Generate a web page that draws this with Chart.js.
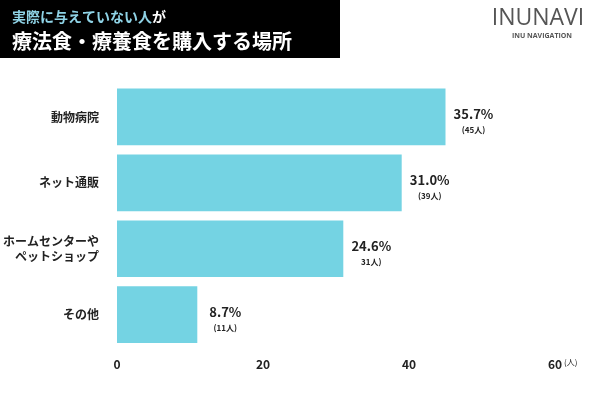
<!DOCTYPE html>
<html><head><meta charset="utf-8">
<script src="https://cdn.jsdelivr.net/npm/chart.js@4"></script>
<style>body{margin:0;background:#fff}#w{width:600px;height:400px;position:relative}</style>
</head><body><div id="w"><canvas id="c"></canvas></div>
<script>
const categories = [["動物病院"], ["ネット通販"], ["ホームセンターや","ペットショップ"], ["その他"]];
const counts = [45, 39, 31, 11];
const percents = ["35.7%", "31.0%", "24.6%", "8.7%"];
const countLabels = ["(45人)", "(39人)", "31人)", "(11人)"];
const xTicks = [0, 20, 40, 60];
const F = '"Noto Sans CJK JP", "Noto Sans", sans-serif';

const deco = {
  id: 'deco',
  beforeDraw(ch) {
    const c = ch.ctx;
    c.save();
    c.fillStyle = '#fff'; c.fillRect(0,0,600,400);
    c.fillStyle = '#000'; c.fillRect(0,0,340,58);
    c.textBaseline = 'alphabetic'; c.textAlign = 'left';
    c.font = 'bold 14px ' + F;
    c.fillStyle = '#8fd3e6'; c.fillText('実際に与えていない人', 12, 22);
    const w = c.measureText('実際に与えていない人').width;
    c.fillStyle = '#fff'; c.fillText('が', 12 + w, 22);
    c.font = 'bold 20px ' + F; c.fillText('療法食・療養食を購入する場所', 12, 49);
    c.fillStyle = '#555'; c.textAlign = 'center';
    c.font = '23px "Open Sans", sans-serif'; c.fillText('INUNAVI', 538, 25);
    c.font = 'bold 7px "Open Sans", sans-serif'; c.fillText('INU NAVIGATION', 542, 38);
    c.restore();
  },
  afterDatasetsDraw(ch) {
    const c = ch.ctx, meta = ch.getDatasetMeta(0);
    c.save(); c.fillStyle = '#222'; c.textAlign = 'center';
    meta.data.forEach((b, i) => {
      c.font = 'bold 13px ' + F;
      c.fillText(percents[i], b.x + 28, b.y + 2);
      c.font = 'bold 8px ' + F;
      c.fillText(countLabels[i], b.x + 28, b.y + 16);
    });
    const xs = ch.scales.x;
    c.font = '8px ' + F; c.textAlign = 'left'; c.textBaseline = 'middle';
    c.fillText('(人)', xs.getPixelForValue(60) + 9, xs.top + 14);
    c.restore();
  }
};

new Chart(document.getElementById('c'), {
  type: 'bar',
  data: { labels: categories, datasets: [{ data: counts, backgroundColor: '#74d3e3', barPercentage: 0.86, categoryPercentage: 1 }] },
  options: {
    indexAxis: 'y', responsive: true, maintainAspectRatio: false, animation: false,
    layout: { padding: { top: 84, right: 45, bottom: 26, left: 0 } },
    plugins: { legend: { display: false }, tooltip: { enabled: false } },
    scales: {
      x: { min: 0, max: 60, afterBuildTicks: s => { s.ticks = xTicks.map(v => ({ value: v })); },
           grid: { display: false }, border: { display: false },
           ticks: { color: '#222', font: { family: F, size: 12, weight: 'bold' }, padding: 2 } },
      y: { grid: { display: false }, border: { display: false },
           afterFit: s => { s.width = 117; },
           ticks: { color: '#222', font: { family: F, size: 12, weight: 'bold' }, padding: 10 } }
    }
  },
  plugins: [deco]
});
</script></body></html>
